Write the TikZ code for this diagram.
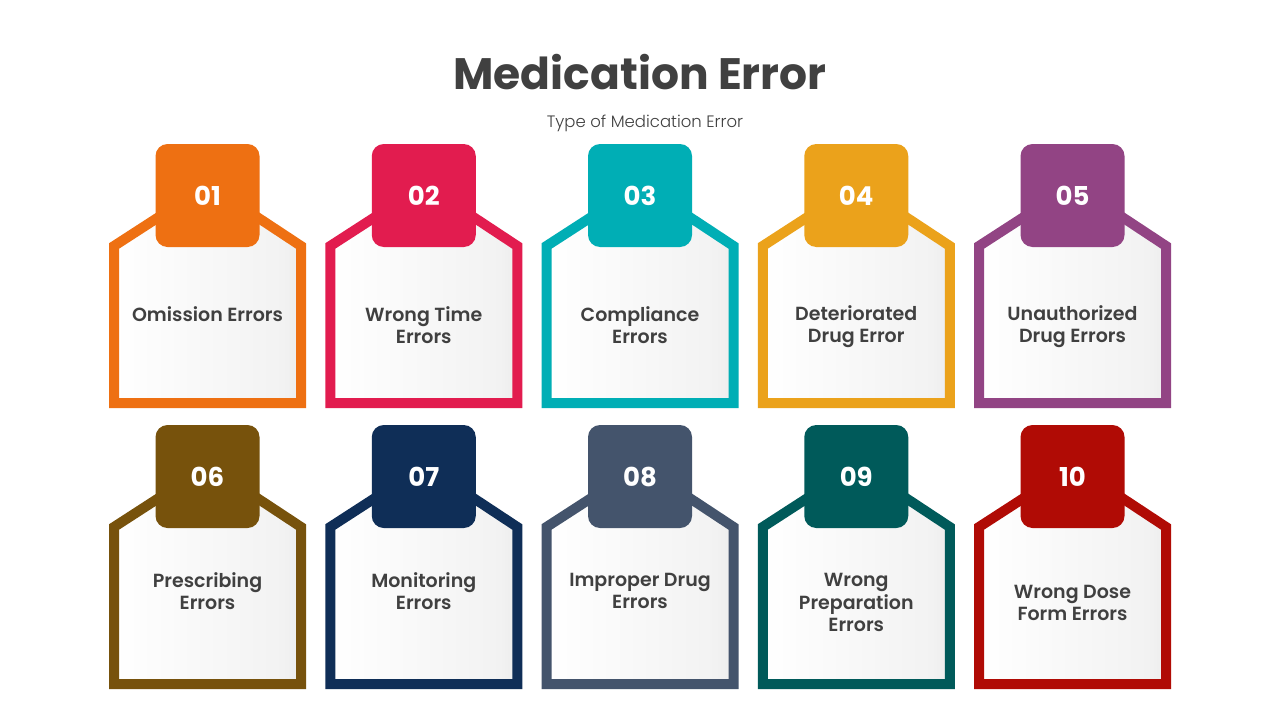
\documentclass[tikz,border=0pt]{standalone}
\usepackage{fontspec}
\setmainfont{Poppins}[BoldFont={Poppins SemiBold}]
\newfontfamily\lightfont{Poppins Light}
\newfontfamily\heavyfont{Poppins Bold}
\definecolor{txt}{HTML}{404040}
\definecolor{cA}{HTML}{EE7012}
\definecolor{cB}{HTML}{E21C4F}
\definecolor{cC}{HTML}{00AEB5}
\definecolor{cD}{HTML}{EBA21B}
\definecolor{cE}{HTML}{924484}
\definecolor{cF}{HTML}{77520C}
\definecolor{cG}{HTML}{0F2E57}
\definecolor{cH}{HTML}{44546C}
\definecolor{cI}{HTML}{005A5A}
\definecolor{cJ}{HTML}{B00B05}
\pgfdeclarehorizontalshading{cardshade}{100bp}{color(0bp)=(black!5); color(25bp)=(white); color(70bp)=(white!95!black); color(100bp)=(black!18)}
\tikzset{
  badge/.style={rounded corners=12pt, minimum width=104pt, minimum height=103pt, inner sep=0pt, text=white, font=\heavyfont\fontsize{26}{30}\selectfont},
  cardline/.style={line width=10pt, line join=miter, shading=cardshade},
  label/.style={text=txt, align=center, font=\bfseries\fontsize{19}{22.5}\selectfont, inner sep=0pt},
}
\begin{document}
\begin{tikzpicture}[x=1pt,y=-1pt]
\useasboundingbox (0,0) rectangle (1280,720);
\fill[white] (0,0) rectangle (1280,720);
\node[text=txt, font=\heavyfont\fontsize{44}{50}\selectfont] (title) at (640,72) {Medication Error};
\node[text=txt, font=\lightfont\fontsize{16.5}{20}\selectfont] (sub) at (645,123) {Type of Medication Error};
\foreach \xl/\yt/\col/\num/\lab/\ty in {
  109/144/cA/01/{Omission Errors}/314,
  325.25/144/cB/02/{Wrong Time\\Errors}/325,
  541.5/144/cC/03/{Compliance\\Errors}/325,
  757.75/144/cD/04/{Deteriorated\\Drug Error}/326.5,
  974/144/cE/05/{Unauthorized\\Drug Errors}/326.5,
  109/425/cF/06/{Prescribing\\Errors}/591,
  325.25/425/cG/07/{Monitoring\\Errors}/591,
  541.5/425/cH/08/{Improper Drug\\Errors}/591,
  757.75/425/cI/09/{Wrong\\Preparation\\Errors}/602.5,
  974/425/cJ/10/{Wrong Dose\\Form Errors}/603}{
  \shadedraw[cardline, draw=\col] (\xl+5,\yt+259) -- (\xl+5,\yt+102) -- (\xl+56,\yt+69) -- (\xl+142,\yt+69) -- (\xl+192,\yt+102) -- (\xl+192,\yt+259) -- cycle;
  \node[badge, fill=\col] (b\num) at (\xl+98.5,\yt+51.5) {\num};
  \node[label] (l\num) at (\xl+98.5,\ty) {\lab};
}
\end{tikzpicture}
\end{document}
